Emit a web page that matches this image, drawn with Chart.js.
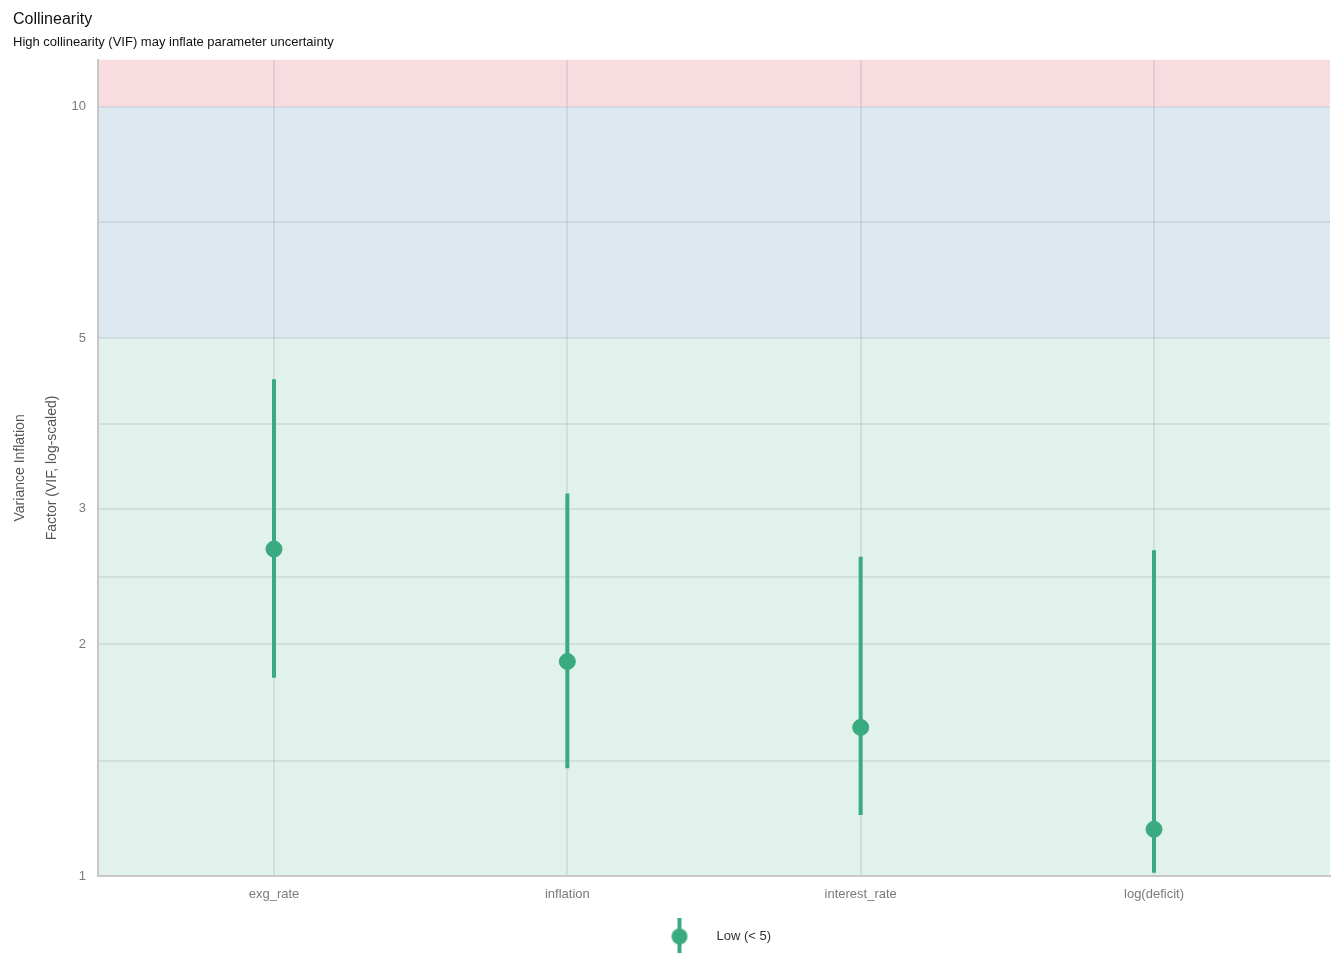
<!DOCTYPE html>
<html>
<head>
<meta charset="utf-8">
<script src="https://cdn.jsdelivr.net/npm/chart.js@4.4.1/dist/chart.umd.min.js"></script>
<style>
  html, body { margin: 0; padding: 0; background: #fff; }
  #wrap { width: 1344px; height: 960px; }
</style>
</head>
<body>
<div id="wrap"><canvas id="vifChart" width="1344" height="960"></canvas></div>
<script>
// values
const categories = ['exg_rate', 'inflation', 'interest_rate', 'log(deficit)'];
const vif = [2.66, 1.90, 1.56, 1.15];
const vifLow = [1.81, 1.38, 1.20, 1.01];
const vifHigh = [4.42, 3.14, 2.60, 2.65];

const yTicks = [1, 2, 3, 5, 10];
const yMinorTicks = [1.41, 2.45, 3.87, 7.07];
const yMin = 1;
const yMax = 11.5;

// background zones (low / moderate / high)
const bandFrom = [1, 5, 10];
const bandTo = [5, 10, 11.5];
const bandColors = ['#e1f2ec', '#dde8f0', '#f9dcdf'];

const pointColor = '#3aaa80';

// legend symbol: point with vertical bar
function legendSymbol() {
    let c = document.createElement('canvas');
    c.width = 20;
    c.height = 38;
    let g = c.getContext('2d');
    g.fillStyle = pointColor;
    g.fillRect(8, 0, 4, 38);
    g.beginPath();
    g.arc(10, 19, 8, 0, Math.PI * 2);
    g.fill();
    return c;
}

const bandsPlugin = {
    id: 'bands',
    afterLayout(chart) {
        // nudge legend a little left, like the reference
        chart.legend.left -= 8;
    },
    beforeDraw(chart) {
        const {ctx, chartArea, scales} = chart;
        ctx.save();
        for (let i = 0; i < bandFrom.length; i++) {
            let y1 = Math.max(scales.y.getPixelForValue(bandTo[i]), chartArea.top);
            let y2 = scales.y.getPixelForValue(bandFrom[i]);
            ctx.fillStyle = bandColors[i];
            ctx.fillRect(chartArea.left, y1, chartArea.right - chartArea.left, y2 - y1);
        }
        ctx.restore();
    }
};

const errorBarPlugin = {
    id: 'errorBars',
    beforeDatasetsDraw(chart) {
        const {ctx, scales} = chart;
        ctx.save();
        ctx.strokeStyle = pointColor;
        ctx.lineWidth = 4;
        for (let i = 0; i < categories.length; i++) {
            let x = scales.x.getPixelForValue(i);
            ctx.beginPath();
            ctx.moveTo(x, scales.y.getPixelForValue(vifLow[i]));
            ctx.lineTo(x, scales.y.getPixelForValue(vifHigh[i]));
            ctx.stroke();
        }
        ctx.restore();
    }
};

const gridColor = 'rgba(120,130,140,0.16)';

let ctx = document.getElementById('vifChart').getContext('2d');
let vifChart = new Chart(ctx, {
    type: 'scatter',
    data: {
        datasets: [{
            label: 'Low (< 5)',
            data: vif.map((v, i) => ({x: i, y: v})),
            backgroundColor: pointColor,
            borderColor: pointColor,
            pointRadius: 8,
            pointHoverRadius: 8
        }]
    },
    plugins: [bandsPlugin, errorBarPlugin],
    options: {
        responsive: false,
        animation: false,
        layout: { padding: { left: 13, right: 14, top: 0, bottom: 7 } },
        plugins: {
            title: {
                display: true,
                text: 'Collinearity',
                align: 'start',
                color: '#111',
                font: { family: 'Liberation Sans', size: 16, weight: 'normal' },
                padding: { top: 10, bottom: 0 }
            },
            subtitle: {
                display: true,
                text: 'High collinearity (VIF) may inflate parameter uncertainty',
                align: 'start',
                color: '#111',
                font: { family: 'Liberation Sans', size: 13 },
                padding: { top: 5, bottom: 10 }
            },
            legend: {
                position: 'bottom',
                fullSize: false,
                labels: {
                    usePointStyle: true,
                    pointStyleWidth: 61,
                    color: '#333',
                    font: { family: 'Liberation Sans', size: 13 },
                    padding: 18,
                    generateLabels: () => [{
                        text: 'Low (< 5)',
                        pointStyle: legendSymbol(),
                        fillStyle: pointColor,
                        strokeStyle: pointColor,
                        lineWidth: 0,
                        fontColor: '#333'
                    }]
                }
            },
            tooltip: { enabled: false }
        },
        scales: {
            x: {
                type: 'linear',
                min: -0.6,
                max: 3.6,
                afterBuildTicks: (scale) => {
                    scale.ticks = categories.map((c, i) => ({value: i}));
                },
                afterFit: (scale) => { scale.height = 36; },
                ticks: {
                    callback: (value) => categories[value],
                    color: '#7a7a7a',
                    font: { family: 'Liberation Sans', size: 13 },
                    padding: 11,
                    maxRotation: 0
                },
                grid: { color: gridColor, lineWidth: 2, drawTicks: false },
                border: { color: '#c8c8c8', width: 2 }
            },
            y: {
                type: 'logarithmic',
                min: yMin,
                max: yMax,
                afterBuildTicks: (scale) => {
                    let t = yTicks.concat(yMinorTicks).sort((a, b) => a - b);
                    scale.ticks = t.map(v => ({value: v}));
                },
                afterFit: (scale) => { scale.width = 85; },
                ticks: {
                    callback: (value) => yTicks.includes(value) ? String(value) : '',
                    color: '#7a7a7a',
                    font: { family: 'Liberation Sans', size: 13 },
                    padding: 12
                },
                grid: { color: gridColor, lineWidth: 2, drawTicks: false },
                border: { color: '#c8c8c8', width: 2 },
                title: {
                    display: true,
                    text: ['Variance Inflation', 'Factor (VIF, log-scaled)'],
                    color: '#555',
                    font: { family: 'Liberation Sans', size: 14, lineHeight: 2.3 },
                    padding: { top: -9, bottom: 0 }
                }
            }
        }
    }
});
</script>
</body>
</html>
